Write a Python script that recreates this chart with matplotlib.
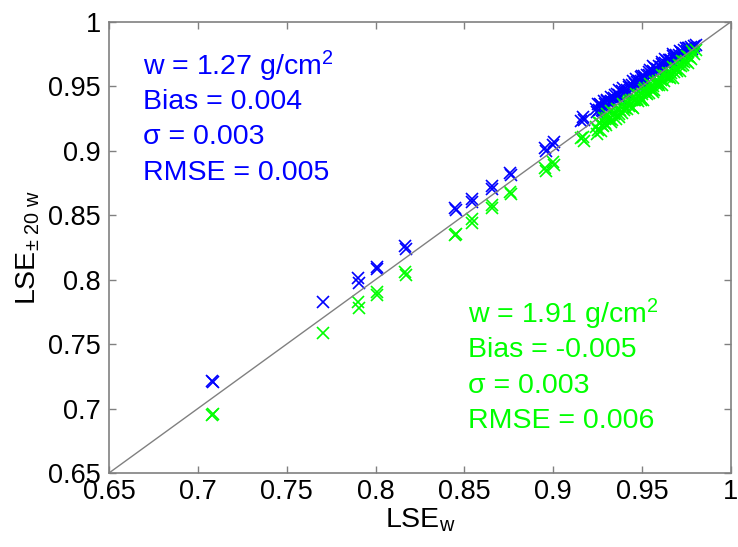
import matplotlib
matplotlib.use("Agg")
import matplotlib.pyplot as plt

plt.rcParams['font.family'] = ['Liberation Sans', 'DejaVu Sans']
plt.rcParams['mathtext.fontset'] = 'custom'
plt.rcParams['mathtext.rm'] = 'Liberation Sans'
plt.rcParams['mathtext.it'] = 'Liberation Sans:italic'
plt.rcParams['mathtext.bf'] = 'Liberation Sans:bold'
plt.rcParams['mathtext.default'] = 'regular'

# Isolated samples: LSE at w, LSE with w lowered (blue) and raised (green)
lse_w_low = [0.7082, 0.7085, 0.7706, 0.7903, 0.7906, 0.8006, 0.8009, 0.8166, 0.8169,
             0.8447, 0.8450, 0.8541, 0.8544, 0.8654, 0.8657, 0.8757, 0.8760,
             0.8954, 0.8957, 0.9000, 0.9003, 0.9158, 0.9165, 0.9172]
lse_blue_low = [0.7210, 0.7203, 0.7828, 0.8010, 0.7975, 0.8100, 0.8085, 0.8260, 0.8240,
                0.8552, 0.8540, 0.8622, 0.8605, 0.8725, 0.8705, 0.8829, 0.8810,
                0.9018, 0.9000, 0.9043, 0.9065, 0.9228, 0.9262, 0.9235]
lse_green_low = [0.6950, 0.6957, 0.7583, 0.7830, 0.7780, 0.7900, 0.7880, 0.8060, 0.8035,
                 0.8345, 0.8352, 0.8467, 0.8440, 0.8578, 0.8555, 0.8681, 0.8660,
                 0.8863, 0.8845, 0.8914, 0.8890, 0.9095, 0.9108, 0.9075]

# Dense cluster of high-emissivity samples
lse_w_high = [0.9243, 0.9251, 0.9258, 0.9266, 0.9272, 0.9284, 0.9291, 0.9297, 0.9305, 0.9318,
              0.9326, 0.9331, 0.9342, 0.9355, 0.9361, 0.9368, 0.9377, 0.9389, 0.9394, 0.9402,
              0.9413, 0.9419, 0.9428, 0.9436, 0.9441, 0.9453, 0.9460, 0.9467, 0.9475, 0.9482,
              0.9491, 0.9498, 0.9506, 0.9512, 0.9521, 0.9529, 0.9537, 0.9544, 0.9553, 0.9559,
              0.9568, 0.9574, 0.9583, 0.9591, 0.9597, 0.9606, 0.9614, 0.9622, 0.9631, 0.9638,
              0.9646, 0.9655, 0.9663, 0.9671, 0.9680, 0.9688, 0.9697, 0.9705, 0.9716, 0.9724,
              0.9738, 0.9751, 0.9766, 0.9781, 0.9802,
              0.9247, 0.9262, 0.9279, 0.9301, 0.9322, 0.9349, 0.9372, 0.9398, 0.9424, 0.9447,
              0.9471, 0.9494, 0.9517, 0.9541, 0.9563, 0.9588, 0.9609, 0.9627, 0.9651, 0.9676,
              0.9693, 0.9711, 0.9731, 0.9745, 0.9759, 0.9773, 0.9790]
lse_blue_high = [0.9323, 0.9361, 0.9318, 0.9356, 0.9312, 0.9384, 0.9361, 0.9327, 0.9385, 0.9378,
                 0.9416, 0.9381, 0.9412, 0.9395, 0.9441, 0.9428, 0.9407, 0.9459, 0.9484, 0.9452,
                 0.9473, 0.9439, 0.9508, 0.9486, 0.9511, 0.9493, 0.9520, 0.9557, 0.9505, 0.9542,
                 0.9541, 0.9578, 0.9546, 0.9582, 0.9541, 0.9589, 0.9587, 0.9624, 0.9583, 0.9619,
                 0.9608, 0.9644, 0.9633, 0.9611, 0.9657, 0.9646, 0.9684, 0.9652, 0.9681, 0.9698,
                 0.9666, 0.9705, 0.9703, 0.9731, 0.9710, 0.9738, 0.9717, 0.9745, 0.9766, 0.9754,
                 0.9778, 0.9771, 0.9796, 0.9791, 0.9817,
                 0.9297, 0.9362, 0.9309, 0.9391, 0.9382, 0.9429, 0.9472, 0.9438, 0.9494, 0.9537,
                 0.9531, 0.9574, 0.9567, 0.9611, 0.9653, 0.9628, 0.9669, 0.9707, 0.9701, 0.9746,
                 0.9733, 0.9771, 0.9761, 0.9795, 0.9799, 0.9803, 0.9810]
lse_green_high = [0.9183, 0.9161, 0.9218, 0.9156, 0.9202, 0.9254, 0.9211, 0.9197, 0.9255, 0.9248,
                  0.9306, 0.9241, 0.9282, 0.9245, 0.9321, 0.9288, 0.9317, 0.9289, 0.9364, 0.9332,
                  0.9323, 0.9369, 0.9348, 0.9396, 0.9341, 0.9393, 0.9390, 0.9437, 0.9385, 0.9432,
                  0.9411, 0.9438, 0.9396, 0.9472, 0.9451, 0.9439, 0.9487, 0.9514, 0.9473, 0.9499,
                  0.9468, 0.9534, 0.9513, 0.9541, 0.9507, 0.9546, 0.9584, 0.9542, 0.9581, 0.9568,
                  0.9606, 0.9565, 0.9603, 0.9651, 0.9610, 0.9638, 0.9617, 0.9665, 0.9656, 0.9694,
                  0.9688, 0.9731, 0.9726, 0.9771, 0.9778,
                  0.9127, 0.9212, 0.9189, 0.9281, 0.9222, 0.9289, 0.9262, 0.9318, 0.9384, 0.9327,
                  0.9401, 0.9394, 0.9487, 0.9451, 0.9453, 0.9528, 0.9509, 0.9577, 0.9571, 0.9566,
                  0.9633, 0.9621, 0.9661, 0.9695, 0.9679, 0.9713, 0.9750]

ticks = [0.65, 0.7, 0.75, 0.8, 0.85, 0.9, 0.95, 1]
tick_labels = ['0.65', '0.7', '0.75', '0.8', '0.85', '0.9', '0.95', '1']

blue_stats = ['w = 1.27 g/cm$^{2}$', 'Bias = 0.004', 'σ = 0.003', 'RMSE = 0.005']
green_stats = ['w = 1.91 g/cm$^{2}$', 'Bias = -0.005', 'σ = 0.003', 'RMSE = 0.006']

BLUE = '#0000ff'
GREEN = '#00ff00'
GREY = '#808080'

fig = plt.figure(figsize=(7.38, 5.47), dpi=100)
ax = fig.add_axes([0.1477, 0.1353, 0.8428, 0.825])

mk = dict(linestyle='none', marker='x', markersize=9, markeredgewidth=1.2)
ax.plot(lse_w_low, lse_blue_low, color=BLUE, **mk)
ax.plot(lse_w_high, lse_blue_high, color=BLUE, **mk)
ax.plot(lse_w_low, lse_green_low, color=GREEN, **mk)
ax.plot(lse_w_high, lse_green_high, color=GREEN, **mk)

# 1:1 reference line
ax.plot([ticks[0], ticks[-1]], [ticks[0], ticks[-1]], color=GREY, lw=1.0, zorder=3)

ax.set_xlim(ticks[0], ticks[-1])
ax.set_ylim(ticks[0], ticks[-1])
ax.set_xticks(ticks)
ax.set_xticklabels(tick_labels)
ax.set_yticks(ticks)
ax.set_yticklabels(tick_labels)

ax.tick_params(axis='both', direction='in', length=5, width=1, color=GREY,
               labelsize=19.5, top=True, right=True)
ax.tick_params(axis='x', pad=4)
ax.tick_params(axis='y', pad=6)
for s in ax.spines.values():
    s.set_color(GREY)
    s.set_linewidth(1.2)

ax.set_xlabel('LSE$_{w}$', fontsize=20.5)
ax.set_ylabel(r'LSE$_{\pm\ 20\ w}$', fontsize=20.5)
ax.xaxis.set_label_coords(0.5, -0.075)
ax.yaxis.set_label_coords(-0.108, 0.5)

blue_y = [0.9587, 0.9322, 0.9050, 0.8775]
for txt, yy in zip(blue_stats, blue_y):
    ax.text(0.6691, yy, txt, color=BLUE, fontsize=20.5, va='baseline', ha='left')

green_y = [0.7661, 0.7396, 0.7122, 0.6846]
for txt, yy in zip(green_stats, green_y):
    ax.text(0.8522, yy, txt, color=GREEN, fontsize=20.5, va='baseline', ha='left')

fig.savefig('out.png', dpi=100)
